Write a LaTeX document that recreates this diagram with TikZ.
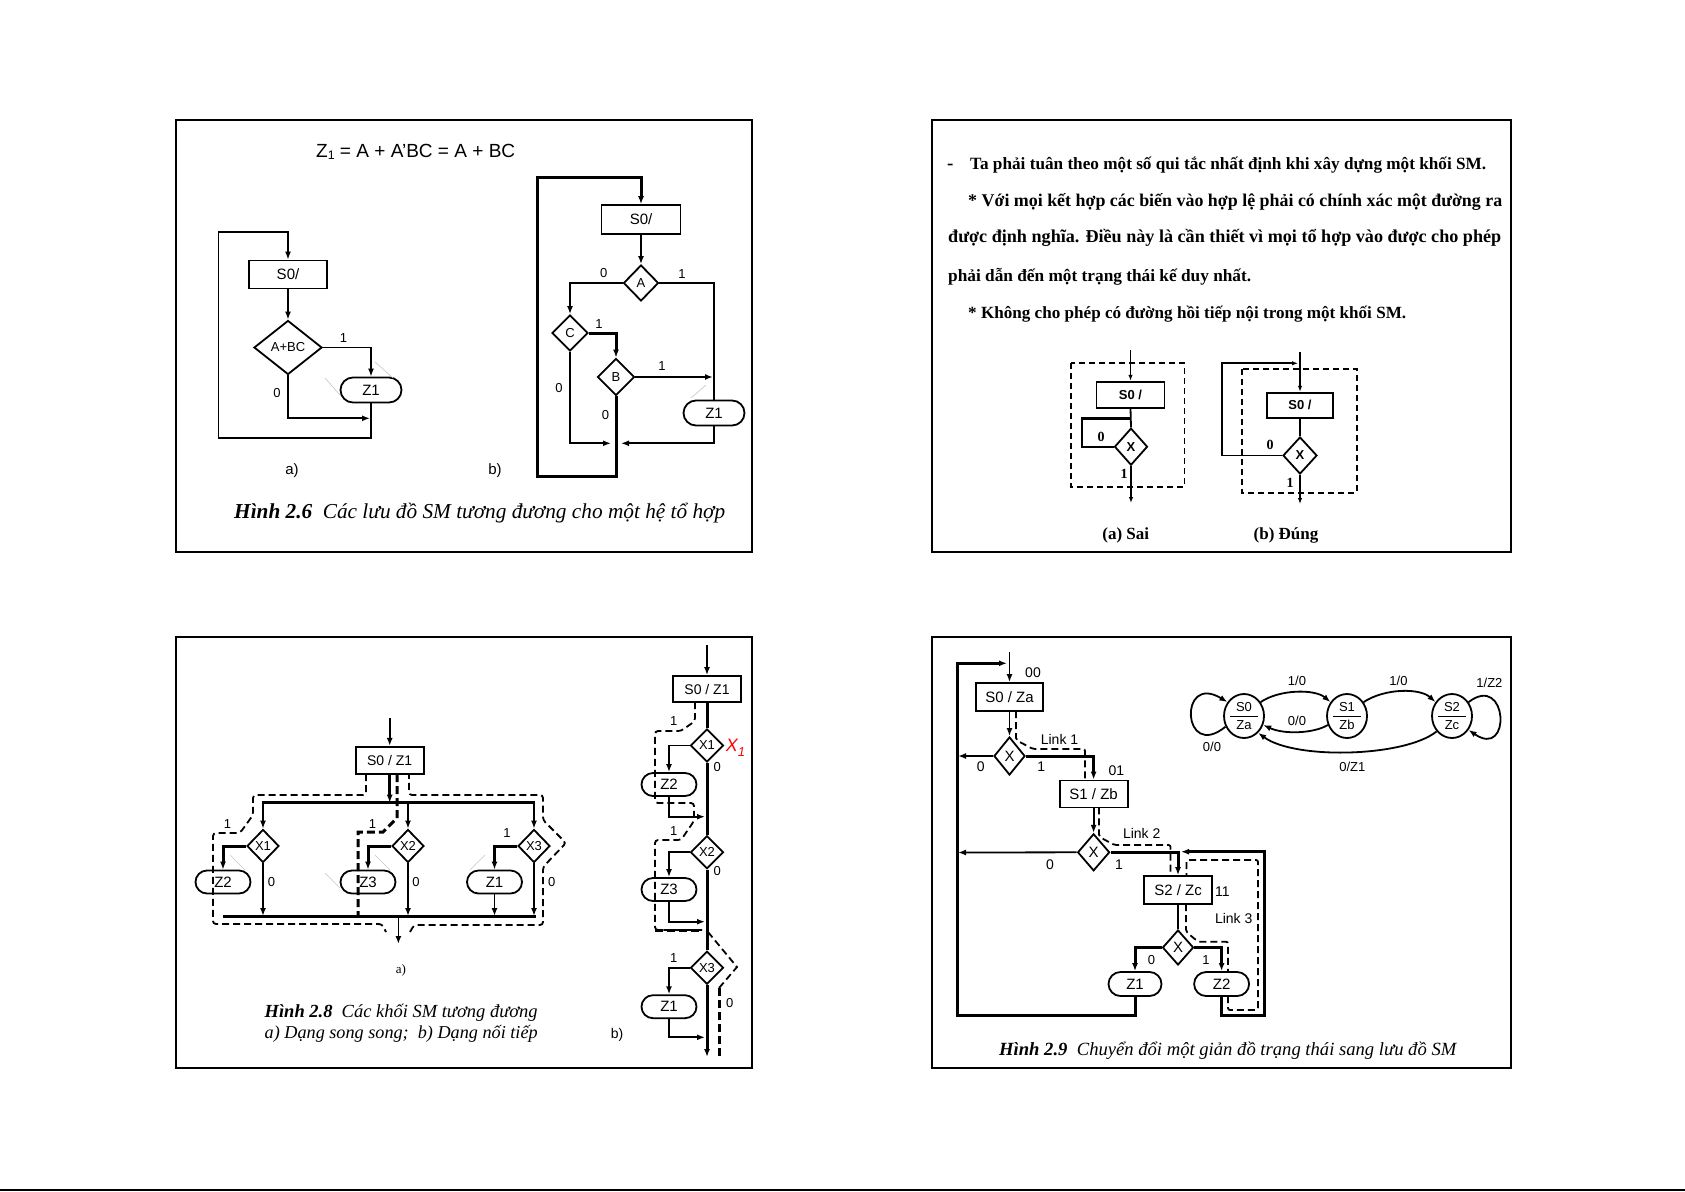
\documentclass[tikz,border=0pt]{standalone}
\usepackage{fontspec}
\setmainfont{Liberation Serif}
\setsansfont{Liberation Sans}
\usetikzlibrary{arrows.meta,shapes.geometric,shapes.misc,calc}
\newcommand\fsz[1]{\fontsize{#1}{#1}\selectfont}
\newcommand\fitw[2]{\resizebox{#1}{!}{#2}}
\begin{document}
\begin{tikzpicture}[x=1pt,y=-1pt,
  ln/.style={line width=1.8pt},
  thk/.style={line width=3pt},
  arr/.style={-{Latex[length=8pt,width=6pt]}},
  sarr/.style={-{Latex[length=6pt,width=4.5pt]}},
  sbox/.style={draw,line width=1.8pt,inner sep=0,font=\sffamily\fsz{15}},
  dia/.style={draw,diamond,line width=1.8pt,inner sep=0,font=\sffamily\fsz{13}},
  ovl/.style={draw,rounded rectangle,line width=1.8pt,inner sep=0,font=\sffamily\fsz{15}},
  lab/.style={font=\sffamily\fsz{13},inner sep=0},
  dsh/.style={line width=1.8pt,dash pattern=on 7pt off 4pt},
  dshk/.style={line width=3pt,dash pattern=on 8pt off 4pt},
  tick/.style={gray!45,line width=0.6pt},
  panel/.style={draw,line width=2pt},
  txt/.style={anchor=base west,inner sep=0},
]
\useasboundingbox (0,0) rectangle (1685,1191);
\fill[white] (0,0) rectangle (1685,1191);
\draw[line width=2.5pt] (0,1190) -- (1685,1190);

% ================= panels
\draw[panel] (175.5,120) rectangle (752,552);
\draw[panel] (932,120) rectangle (1511,552);
\draw[panel] (175.5,637) rectangle (752,1068);
\draw[panel] (932,637) rectangle (1511,1068);

% ================= TOP LEFT
\node[txt] (ttl) at (316,157) {\fitw{199pt}{\sffamily\fsz{20}Z\raisebox{-3pt}{\fsz{13}1} = A + A'BC = A + BC}};
% (a)
\node[sbox,minimum width=78pt,minimum height=28pt] (s0a) at (288,274.5) {S0/};
\node[dia,minimum width=68pt,minimum height=54pt] (da) at (288,347.5) {A+BC};
\node[ovl,minimum width=61pt,minimum height=25pt] (z1a) at (371,390) {Z1};
\coordinate (ja) at (370,418.3);
\coordinate (ka) at (371,438.3);
\coordinate (la) at (218.5,438.3);
\coordinate (ma) at (218.5,231.7);
\draw[ln,arr] (s0a.south) -- (da.north);
\draw[ln,arr] (da.east) -| (z1a.north);
\draw[ln,arr] (da.south) |- (ja);
\draw[ln,arr] (z1a.south) -- (ka) -- (la) -- (ma) -| (s0a.north);
\draw[tick] (325,378) -- (340,395);
\draw[tick] (375,362) -- (393,378);
\node[lab] at (343.5,338) {1};
\node[lab] at (277,393) {0};
\node[lab,font=\sffamily\fsz{15}] at (292,471) {a)};
% (b)
\node[sbox,minimum width=79pt,minimum height=29pt] (s0b) at (641,219.6) {S0/};
\node[dia,minimum width=35pt,minimum height=36pt] (dA) at (641,283) {A};
\node[dia,minimum width=36pt,minimum height=36pt] (dC) at (570,333) {C};
\node[dia,minimum width=37pt,minimum height=37pt] (dB) at (616,377) {B};
\node[ovl,minimum width=61pt,minimum height=25pt] (z1b) at (714,413) {Z1};
\draw[ln,arr] (s0b.south) -- (dA.north);
\draw[ln,arr] (dA.west) -| (dC.north);
\draw[ln] (dA.east) -| (z1b.north);
\draw[thk,arr] (dC.east) -| (dB.north);
\coordinate (jb) at (713,377);
\draw[ln,arr] (dB.east) -- (jb);
\coordinate (jc) at (611,443.3);
\coordinate (jd) at (621,443.3);
\draw[ln,arr] (dC.south) |- (jc);
\draw[ln,arr] (z1b.south) |- (jd);
\coordinate (je) at (616,476.7);
\coordinate (jf) at (537.4,476.7);
\coordinate (jg) at (537.4,177.3);
\draw[thk,arr] (dB.south) -- (je) -- (jf) -- (jg) -| (s0b.north);
\draw[tick] (691,398) -- (706,385);
\node[lab] at (603.7,273.3) {0};
\node[lab] at (682,274) {1};
\node[lab] at (599,324.3) {1};
\node[lab] at (662,365.7) {1};
\node[lab] at (559,388) {0};
\node[lab] at (605.6,415) {0};
\node[lab,font=\sffamily\fsz{15}] at (495,471) {b)};
\node[txt] (cap1) at (234,518) {\fitw{491pt}{\fsz{20}\textbf{\textit{Hình 2.6}}\ \ \textit{Các lưu đồ SM tương đương cho một hệ tổ hợp}}};

% ================= TOP RIGHT
\node[txt] at (947,169) {\bfseries\fsz{19}-};
\node[txt] (t1) at (970,169) {\fitw{516pt}{\bfseries\fsz{19}Ta phải tuân theo một số qui tắc nhất định khi xây dựng một khối SM.}};
\node[txt] (t2) at (968,206) {\fitw{534pt}{\bfseries\fsz{19}* Với mọi kết hợp các biến vào hợp lệ phải có chính xác một đường ra}};
\node[txt] (t3) at (948,242) {\fitw{553pt}{\bfseries\fsz{19}được định nghĩa. Điều này là cần thiết vì mọi tổ hợp vào được cho phép}};
\node[txt] (t4) at (948,281) {\fitw{303pt}{\bfseries\fsz{19}phải dẫn đến một trạng thái kế duy nhất.}};
\node[txt] (t5) at (968,318) {\fitw{438pt}{\bfseries\fsz{19}* Không cho phép có đường hồi tiếp nội trong một khối SM.}};
% (a) Sai
\draw[dsh,line width=1.6pt,dash pattern=on 6pt off 4pt] (1071,363) rectangle (1184.5,486.7);
\coordinate (ina) at (1130.5,350);
\node[sbox,minimum width=68pt,minimum height=26pt,font=\sffamily\bfseries\fsz{13}] (s0sa) at (1130.5,394.7) {S0 /};
\node[dia,minimum width=33pt,minimum height=37pt,font=\sffamily\bfseries\fsz{13}] (dxa) at (1131,446.7) {X};
\draw[ln,sarr] (ina) -- (s0sa.north);
\draw[ln] (s0sa.south) -- (dxa.north);
\coordinate (fa1) at (1082,446.7);
\coordinate (fa2) at (1082,418.3);
\coordinate (fa3) at (1130.5,418.3);
\draw[line width=2.4pt] (dxa.west) -- (fa1) -- (fa2) -- (fa3);
\coordinate (oa) at (1131,503);
\draw[ln,sarr] (dxa.south) -- (oa);
\node[lab,font=\bfseries\fsz{14}] at (1101,436.7) {0};
\node[lab,font=\bfseries\fsz{14}] at (1124,474) {1};
\node[font=\bfseries\fsz{17}] at (1125.7,535.7) {(a) Sai};
% (b) Dung
\draw[dsh,line width=1.6pt,dash pattern=on 6pt off 4pt] (1242,369) rectangle (1356.8,492.7);
\coordinate (inb) at (1300,352.3);
\node[sbox,minimum width=66pt,minimum height=25pt,font=\sffamily\bfseries\fsz{13}] (s0sb) at (1300,405.2) {S0 /};
\node[dia,minimum width=34pt,minimum height=37pt,font=\sffamily\bfseries\fsz{13}] (dxb) at (1300,455.5) {X};
\draw[ln,sarr] (inb) -- (s0sb.north);
\draw[ln] (s0sb.south) -- (dxb.north);
\coordinate (fb1) at (1222,455.5);
\coordinate (fb2) at (1222,363.3);
\coordinate (fb3) at (1298,363.3);
\draw[ln,sarr] (dxb.west) -- (fb1) -- (fb2) -- (fb3);
\coordinate (ob) at (1300,504);
\draw[ln,sarr] (dxb.south) -- (ob);
\node[lab,font=\bfseries\fsz{14}] at (1270,445) {0};
\node[lab,font=\bfseries\fsz{14}] at (1290,483) {1};
\node[font=\bfseries\fsz{17}] at (1286,535.7) {(b) Đúng};

% ================= BOTTOM LEFT (a)
\coordinate (inp) at (389.7,718.3);
\node[sbox,minimum width=68pt,minimum height=27pt,font=\sffamily\fsz{14}] (bx) at (389.7,760.3) {S0 / Z1};
\draw[ln,arr] (inp) -- (bx.north);
\coordinate (bt) at (389.7,802.7);
\draw[thk,arr] (bx.south) -- (bt);
\draw[thk] (262,802.7) -- (535,802.7);
\node[dia,minimum width=32pt,minimum height=33pt] (dx1) at (263,846) {X1};
\node[dia,minimum width=32pt,minimum height=33pt] (dx2) at (408,846) {X2};
\node[dia,minimum width=32pt,minimum height=33pt] (dx3) at (534,846) {X3};
\coordinate (t1a) at (263,802.7);
\coordinate (t2a) at (408,802.7);
\coordinate (t3a) at (534,802.7);
\draw[ln,arr] (t1a) -- (dx1.north);
\draw[ln,arr] (t2a) -- (dx2.north);
\draw[ln,arr] (t3a) -- (dx3.north);
\node[ovl,minimum width=55pt,minimum height=23pt] (z2) at (223,882) {Z2};
\node[ovl,minimum width=55pt,minimum height=23pt] (z3) at (368,882) {Z3};
\node[ovl,minimum width=55pt,minimum height=23pt] (zz1) at (494.5,882) {Z1};
\draw[thk,arr] (dx1.west) -| (z2.north);
\draw[thk,arr] (dx2.west) -| (z3.north);
\draw[thk,arr] (dx3.west) -| (zz1.north);
\coordinate (b1) at (263,916);
\coordinate (b2) at (408,916);
\coordinate (b3) at (534,916);
\coordinate (b4) at (494.5,916);
\draw[ln,arr] (dx1.south) -- (b1);
\draw[ln,arr] (dx2.south) -- (b2);
\draw[ln,arr] (dx3.south) -- (b3);
\draw[ln,arr] (zz1.south) -- (b4);
\draw[thk] (223,916) -- (536,916);
\coordinate (ob1) at (398.4,916);
\coordinate (ob2) at (398.4,944);
\draw[ln,arr] (ob1) -- (ob2);
\draw[dsh,rounded corners=3pt] (366,774) -- (366,795) -- (253,795) -- (253,815) -- (240,833) -- (213,833) -- (213,924) -- (382,924) -- (386,932);
\draw[dsh,rounded corners=3pt] (410,932) -- (414,925) -- (543,925) -- (543,867) -- (566,843) -- (543,820) -- (543,795) -- (409,795) -- (409,774);
\draw[dshk] (397,774) -- (397,818) -- (383,832) -- (358,832) -- (358,916);
\draw[tick] (230,855) -- (245,870);
\draw[tick] (325,873) -- (340,888);
\draw[tick] (375,855) -- (390,870);
\draw[tick] (470,870) -- (485,855);
\node[lab] at (227.6,824) {1};
\node[lab] at (271.5,882.3) {0};
\node[lab] at (372.6,824) {1};
\node[lab] at (416,882.3) {0};
\node[lab] at (507,832.7) {1};
\node[lab] at (551.8,882.3) {0};
\node[font=\fsz{13}] at (401,970) {a)};
\node[txt] at (264.5,1017) {\fitw{273pt}{\fsz{20}\textbf{\textit{Hình 2.8}}\ \ \textit{Các khối SM tương đương}}};
\node[txt] at (264.5,1038.5) {\fitw{273pt}{\fsz{20}\textit{a) Dạng song song;\ \ b) Dạng nối tiếp}}};
\node[font=\sffamily\fsz{14}] at (617,1035) {b)};

% ================= BOTTOM LEFT (b)
\coordinate (inq) at (707,645);
\node[sbox,minimum width=68pt,minimum height=26pt,font=\sffamily\fsz{14}] (bxs) at (707,689) {S0 / Z1};
\draw[ln,arr] (inq) -- (bxs.north);
\node[dia,minimum width=33pt,minimum height=33pt] (dy1) at (707,745.5) {X1};
\node[dia,minimum width=33pt,minimum height=33pt] (dy2) at (707,852.3) {X2};
\node[dia,minimum width=33pt,minimum height=33pt] (dy3) at (707,967.7) {X3};
\coordinate (endq) at (707,1057);
\draw[thk] (bxs.south) -- (dy1.north);
\draw[thk] (dy1.south) -- (dy2.north);
\draw[thk] (dy2.south) -- (dy3.north);
\draw[thk,arr] (dy3.south) -- (endq);
\node[ovl,minimum width=55pt,minimum height=23pt] (o1) at (669,784.5) {Z2};
\node[ovl,minimum width=55pt,minimum height=23pt] (o2) at (669,889.5) {Z3};
\node[ovl,minimum width=55pt,minimum height=23pt] (o3) at (669,1006.7) {Z1};
\coordinate (r1) at (705,816.7);
\coordinate (r2) at (705,921.7);
\coordinate (r3) at (705,1037.3);
\draw[ln,arr] (dy1.west) -| (o1.north);
\draw[ln,arr] (o1.south) |- (r1);
\draw[ln,arr] (dy2.west) -| (o2.north);
\draw[ln,arr] (o2.south) |- (r2);
\draw[ln,arr] (dy3.west) -| (o3.north);
\draw[ln,arr] (o3.south) |- (r3);
\draw[dsh,rounded corners=3pt] (695,702) -- (695,721) -- (681,731) -- (655,731) -- (655,803) -- (694,803) -- (694,821) -- (681,840) -- (655,840) -- (655,930) -- (702,930);
\draw[dshk] (655,930) -- (702,930);
\draw[dsh] (708,932) -- (737,967) -- (719,988);
\draw[dshk] (719,988) -- (719,1058);
\node[lab] at (673.8,720.7) {1};
\node[lab] at (717.3,767.3) {0};
\node[lab] at (673.8,831) {1};
\node[lab] at (717.3,870.7) {0};
\node[lab] at (673.8,958) {1};
\node[lab] at (729.8,1003.3) {0};
\node[red,font=\sffamily\itshape\fsz{18},inner sep=0] at (735.5,748) {X\raisebox{-5pt}{\fsz{13}1}};

% ================= BOTTOM RIGHT
\coordinate (inr) at (1009.5,651.7);
\node[sbox,minimum width=67pt,minimum height=28pt] (sa) at (1009.5,697) {S0 / Za};
\draw[ln,arr] (inr) -- (sa.north);
\node[dia,minimum width=31pt,minimum height=38pt,font=\sffamily\fsz{15}] (ex1) at (1009.5,756) {X};
\draw[ln,arr] (sa.south) -- (ex1.north);
\coordinate (lx1) at (958,756);
\draw[ln,arr] (ex1.west) -- (lx1);
\node[sbox,minimum width=68pt,minimum height=27pt] (sb) at (1093.6,794) {S1 / Zb};
\draw[thk,arr] (ex1.east) -| (sb.north);
\node[dia,minimum width=32pt,minimum height=37pt,font=\sffamily\fsz{15}] (ex2) at (1093.6,852.3) {X};
\draw[ln,arr] (sb.south) -- (ex2.north);
\coordinate (lx2) at (958,852.5);
\draw[ln,arr] (ex2.west) -- (lx2);
\node[sbox,minimum width=68pt,minimum height=28pt] (sc) at (1178,890) {S2 / Zc};
\draw[thk,arr] (ex2.east) -| (sc.north);
\node[dia,minimum width=31pt,minimum height=35pt,font=\sffamily\fsz{15}] (ex3) at (1178,947.5) {X};
\draw[ln] (sc.south) -- (ex3.north);
\node[ovl,minimum width=53pt,minimum height=24pt] (zb1) at (1135,984) {Z1};
\node[ovl,minimum width=55pt,minimum height=24pt] (zb2) at (1221.6,984) {Z2};
\draw[thk,arr] (ex3.west) -| (zb1.north);
\draw[thk,arr] (ex3.east) -| (zb2.north);
\coordinate (q1) at (1135,1015);
\coordinate (q2) at (957,1015);
\coordinate (q3) at (957,663.3);
\coordinate (q4) at (1007,663.3);
\draw[thk,arr] (zb1.south) -- (q1) -- (q2) -- (q3) -- (q4);
\coordinate (p1) at (1221.6,1015);
\coordinate (p2) at (1264,1015);
\coordinate (p3) at (1264,851.7);
\coordinate (p4) at (1181,851.7);
\draw[thk,arr] (zb2.south) -- (p1) -- (p2) -- (p3) -- (p4);
% links
\draw[dsh,rounded corners=2pt] (1016,711) -- (1016,740) -- (1033,749) -- (1085,749) -- (1085,781);
\draw[dsh,rounded corners=2pt] (1099,807.3) -- (1099,836.7) -- (1114.4,845) -- (1170.5,845) -- (1170.5,876);
\draw[dsh,rounded corners=2pt] (1186,904) -- (1186,931.7) -- (1198,941.7) -- (1228,941.7) -- (1228,972);
\draw[dsh,rounded corners=2pt] (1228,996) -- (1228,1010) -- (1258,1010) -- (1258,860) -- (1186.4,860) -- (1186.4,876);
\node[lab,font=\sffamily\fsz{14}] at (1033,672.7) {00};
\node[lab,font=\sffamily\fsz{14}] at (980.7,766.7) {0};
\node[lab,font=\sffamily\fsz{14}] at (1041.3,766.7) {1};
\node[lab,font=\sffamily\fsz{14}] at (1059.5,739.3) {Link 1};
\node[lab,font=\sffamily\fsz{14}] at (1116.3,770.7) {01};
\node[lab,font=\sffamily\fsz{14}] at (1050,865) {0};
\node[lab,font=\sffamily\fsz{14}] at (1119,865) {1};
\node[lab,font=\sffamily\fsz{14}] at (1141.7,833.3) {Link 2};
\node[lab,font=\sffamily\fsz{14}] at (1222.3,891.7) {11};
\node[lab,font=\sffamily\fsz{14}] at (1233.7,918.3) {Link 3};
\node[lab,font=\sffamily\fsz{13}] at (1151.5,960) {0};
\node[lab,font=\sffamily\fsz{13}] at (1206,960) {1};
% state diagram
\node[draw,ellipse,line width=1.8pt,minimum width=40pt,minimum height=44pt,inner sep=0] (s0c) at (1244,716) {};
\node[draw,ellipse,line width=1.8pt,minimum width=40pt,minimum height=44pt,inner sep=0] (s1c) at (1347,716) {};
\node[draw,ellipse,line width=1.8pt,minimum width=40pt,minimum height=44pt,inner sep=0] (s2c) at (1452,716) {};
\foreach \n/\a/\b in {s0c/S0/Za,s1c/S1/Zb,s2c/S2/Zc}{
  \node[lab] at ($(\n.center)+(0,-9)$) {\a};
  \node[lab] at ($(\n.center)+(0,9)$) {\b};
  \draw[line width=0.9pt] ($(\n.center)+(-14,0)$) -- ($(\n.center)+(14,0)$);
}
\draw[ln,arr] (s0c.40) .. controls (1280,689) and (1315,689) .. (s1c.140);
\draw[ln,arr] (s1c.205) .. controls (1315,733) and (1285,735) .. (s0c.-25);
\draw[ln,arr] (s1c.40) .. controls (1385,688) and (1420,688) .. (s2c.140);
\draw[ln,arr] (s2c.-135) .. controls (1405,757) and (1295,760) .. (s0c.-50);
\draw[ln,arr] (s0c.-150) .. controls (1182,762) and (1178,672) .. (s0c.140);
\draw[ln,arr] (s2c.40) .. controls (1508,672) and (1512,760) .. (s2c.-40);
\node[lab] at (1212,747) {0/0};
\node[lab] at (1297,681) {1/0};
\node[lab] at (1297,720.7) {0/0};
\node[lab] at (1398.5,681) {1/0};
\node[lab] at (1489.4,683.3) {1/Z2};
\node[lab] at (1352.3,767) {0/Z1};
\node[txt] at (999,1055) {\fitw{458pt}{\fsz{20}\textbf{\textit{Hình 2.9}}\ \ \textit{Chuyển đổi một giản đồ trạng thái sang lưu đồ SM}}};
\end{tikzpicture}
\end{document}
